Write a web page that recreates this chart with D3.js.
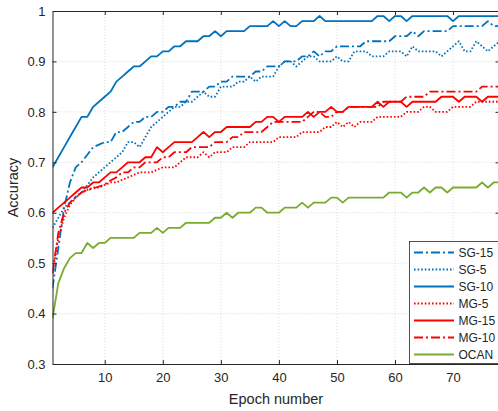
<!DOCTYPE html>
<html>
<head>
<meta charset="utf-8">
<script src="https://cdn.jsdelivr.net/npm/d3@7"></script>
<style>
  body { margin: 0; background: #fff; }
  svg { display: block; font-family: "Liberation Sans", Arial, sans-serif; }
</style>
</head>
<body>
<svg width="498" height="411"></svg>
<script>
// accuracy per epoch (epochs 1..78)
const sg15 = [0.45,0.53,0.61,0.66,0.69,0.70,0.715,0.73,0.735,0.74,
  0.74,0.76,0.76,0.77,0.78,0.78,0.79,0.79,0.80,0.80,
  0.81,0.81,0.82,0.82,0.84,0.84,0.84,0.85,0.85,0.86,
  0.86,0.87,0.87,0.87,0.87,0.88,0.88,0.89,0.89,0.89,
  0.90,0.90,0.90,0.91,0.91,0.92,0.91,0.92,0.92,0.93,
  0.93,0.93,0.93,0.93,0.94,0.94,0.94,0.94,0.94,0.95,
  0.95,0.95,0.96,0.95,0.96,0.96,0.96,0.96,0.96,0.97,
  0.97,0.97,0.97,0.97,0.97,0.98,0.97,0.97];
const sg5 = [0.57,0.59,0.61,0.62,0.63,0.64,0.655,0.67,0.68,0.69,
  0.70,0.71,0.72,0.74,0.74,0.73,0.75,0.77,0.78,0.79,
  0.80,0.81,0.81,0.82,0.82,0.83,0.84,0.83,0.83,0.85,
  0.85,0.85,0.86,0.86,0.87,0.86,0.87,0.87,0.87,0.89,
  0.90,0.90,0.89,0.90,0.91,0.91,0.90,0.90,0.90,0.91,
  0.90,0.90,0.92,0.92,0.92,0.91,0.91,0.91,0.92,0.92,
  0.92,0.91,0.93,0.92,0.92,0.92,0.92,0.91,0.92,0.93,
  0.94,0.92,0.92,0.94,0.93,0.92,0.93,0.94];
const sg10 = [0.69,0.71,0.73,0.75,0.77,0.79,0.79,0.81,0.82,0.83,
  0.84,0.86,0.87,0.88,0.89,0.89,0.90,0.91,0.91,0.92,
  0.92,0.93,0.93,0.94,0.94,0.94,0.95,0.95,0.96,0.95,
  0.96,0.96,0.96,0.96,0.97,0.97,0.97,0.97,0.98,0.97,
  0.98,0.97,0.97,0.98,0.98,0.98,0.99,0.98,0.98,0.98,
  0.98,0.98,0.98,0.98,0.98,0.98,0.99,0.99,0.98,0.99,
  0.99,0.98,0.99,0.99,0.99,0.99,0.99,0.99,0.99,0.98,
  0.99,0.99,0.99,0.99,0.99,0.99,0.99,0.99];
const mg5 = [0.48,0.55,0.59,0.615,0.63,0.64,0.645,0.65,0.65,0.655,
  0.66,0.66,0.665,0.67,0.675,0.68,0.68,0.68,0.685,0.69,
  0.69,0.69,0.70,0.71,0.71,0.71,0.72,0.71,0.72,0.72,
  0.72,0.73,0.73,0.73,0.74,0.74,0.74,0.74,0.74,0.75,
  0.75,0.75,0.75,0.76,0.76,0.76,0.76,0.77,0.77,0.78,
  0.77,0.78,0.77,0.78,0.78,0.78,0.79,0.79,0.79,0.79,
  0.79,0.80,0.80,0.80,0.81,0.81,0.80,0.80,0.80,0.81,
  0.81,0.81,0.81,0.82,0.82,0.82,0.82,0.82];
const mg15 = [0.60,0.61,0.62,0.63,0.64,0.65,0.65,0.66,0.66,0.67,
  0.68,0.68,0.69,0.70,0.70,0.70,0.71,0.71,0.73,0.72,
  0.73,0.74,0.74,0.74,0.74,0.75,0.76,0.75,0.76,0.76,
  0.77,0.77,0.77,0.77,0.77,0.78,0.78,0.79,0.79,0.78,
  0.79,0.79,0.79,0.79,0.80,0.79,0.80,0.80,0.81,0.80,
  0.80,0.81,0.81,0.81,0.81,0.81,0.82,0.81,0.82,0.82,
  0.82,0.81,0.82,0.82,0.82,0.82,0.82,0.83,0.83,0.83,
  0.82,0.83,0.83,0.83,0.82,0.83,0.83,0.83];
const mg10 = [0.48,0.56,0.60,0.62,0.632,0.64,0.645,0.648,0.652,0.656,
  0.664,0.67,0.68,0.68,0.69,0.69,0.70,0.70,0.70,0.71,
  0.71,0.72,0.72,0.72,0.73,0.73,0.73,0.73,0.74,0.74,
  0.74,0.75,0.75,0.76,0.76,0.76,0.76,0.77,0.78,0.78,
  0.78,0.78,0.78,0.78,0.79,0.80,0.80,0.79,0.79,0.80,
  0.80,0.81,0.81,0.81,0.81,0.81,0.81,0.82,0.82,0.82,
  0.82,0.83,0.83,0.83,0.83,0.84,0.84,0.84,0.84,0.84,
  0.84,0.84,0.84,0.84,0.85,0.85,0.85,0.85];
const ocan = [0.39,0.46,0.49,0.51,0.52,0.52,0.54,0.53,0.54,0.54,
  0.55,0.55,0.55,0.55,0.55,0.56,0.56,0.56,0.57,0.56,
  0.57,0.57,0.57,0.58,0.58,0.58,0.58,0.58,0.59,0.59,
  0.60,0.59,0.60,0.60,0.60,0.61,0.61,0.60,0.60,0.60,
  0.61,0.61,0.61,0.62,0.61,0.62,0.62,0.62,0.63,0.63,
  0.62,0.63,0.63,0.63,0.63,0.63,0.63,0.63,0.64,0.64,
  0.64,0.63,0.64,0.64,0.65,0.64,0.65,0.65,0.64,0.65,
  0.65,0.65,0.65,0.65,0.66,0.65,0.66,0.66];

const names = ["SG-15", "SG-5", "SG-10", "MG-5", "MG-15", "MG-10", "OCAN"];
const xTicks = [10, 20, 30, 40, 50, 60, 70];
const yTicks = [0.3, 0.4, 0.5, 0.6, 0.7, 0.8, 0.9, 1];

const blue = "#0072BD", red = "#FF0000", green = "#77AC30";
const dashDot = "9,3,2,3", dots = "1.6,2";

const series = [
  { name: names[0], values: sg15, color: blue, dash: dashDot },
  { name: names[1], values: sg5, color: blue, dash: dots },
  { name: names[2], values: sg10, color: blue, dash: null },
  { name: names[3], values: mg5, color: red, dash: dots },
  { name: names[4], values: mg15, color: red, dash: null },
  { name: names[5], values: mg10, color: red, dash: dashDot },
  { name: names[6], values: ocan, color: green, dash: null }
];

const svg = d3.select("svg");
const plot = { left: 52.5, right: 499.5, top: 11, bottom: 364 };
const axisColor = "#262626";

const x = d3.scaleLinear().domain([1, 78]).range([plot.left, plot.right]);
const y = d3.scaleLinear().domain([0.3, 1]).range([plot.bottom, plot.top]);

// grid
const grid = svg.append("g").attr("stroke", "#d0d0d0").attr("stroke-width", 0.8)
  .attr("stroke-dasharray", "1,2");
grid.selectAll("line.gx").data(xTicks).enter().append("line")
  .attr("x1", d => x(d)).attr("x2", d => x(d)).attr("y1", plot.top).attr("y2", plot.bottom);
grid.selectAll("line.gy").data(yTicks.slice(1, -1)).enter().append("line")
  .attr("y1", d => y(d)).attr("y2", d => y(d)).attr("x1", plot.left).attr("x2", plot.right);

// lines
svg.append("clipPath").attr("id", "plotclip").append("rect")
  .attr("x", plot.left).attr("y", plot.top)
  .attr("width", plot.right - plot.left).attr("height", plot.bottom - plot.top);

const line = d3.line().x((d, i) => x(i + 1)).y(d => y(d));

svg.append("g").attr("clip-path", "url(#plotclip)")
  .selectAll("path").data(series).enter().append("path")
  .attr("d", d => line(d.values))
  .attr("fill", "none")
  .attr("stroke", d => d.color)
  .attr("stroke-width", 1.8)
  .attr("stroke-dasharray", d => d.dash)
  .attr("stroke-linejoin", "round");

// axes (ticks pointing inward, box all round)
function styleAxis(g) {
  g.select(".domain").attr("stroke", axisColor);
  g.selectAll(".tick line").attr("stroke", axisColor);
  g.selectAll(".tick text").attr("fill", axisColor).style("font-size", "13px")
    .style("font-family", "Liberation Sans, Arial, sans-serif");
}
svg.append("g").attr("transform", `translate(0,${plot.bottom})`)
  .call(d3.axisBottom(x).tickValues(xTicks).tickSize(-4).tickSizeOuter(0).tickPadding(9))
  .call(styleAxis);
svg.append("g").attr("transform", `translate(0,${plot.top})`)
  .call(d3.axisTop(x).tickValues(xTicks).tickSize(-4).tickSizeOuter(0).tickFormat(""))
  .call(styleAxis);
svg.append("g").attr("transform", `translate(${plot.left},0)`)
  .call(d3.axisLeft(y).tickValues(yTicks).tickSize(-4).tickSizeOuter(0).tickPadding(7)
    .tickFormat(d => d === 1 ? "1" : d3.format(".1f")(d)))
  .call(styleAxis);
svg.append("g").attr("transform", `translate(${plot.right},0)`)
  .call(d3.axisRight(y).tickValues(yTicks).tickSize(-4).tickSizeOuter(0).tickFormat(""))
  .call(styleAxis);

// axis labels
svg.append("text").attr("x", (plot.left + plot.right) / 2).attr("y", 404)
  .attr("text-anchor", "middle").attr("fill", axisColor).style("font-size", "14.5px")
  .text("Epoch number");
svg.append("text")
  .attr("transform", `translate(18,${(plot.top + plot.bottom) / 2}) rotate(-90)`)
  .attr("text-anchor", "middle").attr("fill", axisColor).style("font-size", "14.5px")
  .text("Accuracy");

// legend
const legend = svg.append("g").attr("transform", "translate(409.5,241.5)");
legend.append("rect").attr("width", 100).attr("height", 122)
  .attr("fill", "#fff").attr("stroke", axisColor).attr("stroke-width", 0.8);
const item = legend.selectAll("g.item").data(series).enter().append("g")
  .attr("transform", (d, i) => `translate(0,${11 + i * 17})`);
item.append("line").attr("x1", 4.5).attr("x2", 44.5)
  .attr("stroke", d => d.color).attr("stroke-width", 1.8)
  .attr("stroke-dasharray", d => d.dash);
item.append("text").attr("x", 49).attr("dy", "0.36em")
  .attr("fill", axisColor).style("font-size", "12px").text(d => d.name);
</script>
</body>
</html>
